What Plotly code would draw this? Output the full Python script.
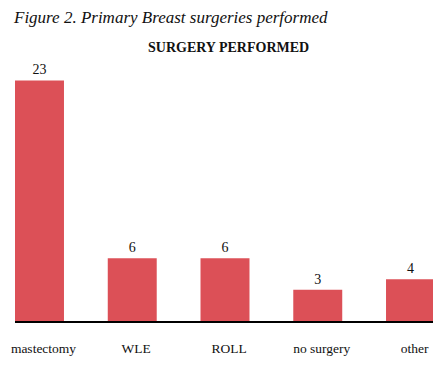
import plotly.graph_objects as go

categories = ["mastectomy", "WLE", "ROLL", "no surgery", "other"]
values = [23, 6, 6, 3, 4]

# the page body has an 8px margin; work in figure coordinates
OFF = 8
W, H = 441 - OFF, 369 - OFF
ml, mr, mt, mb = 15 - OFF, W - (435 - OFF), 70 - OFF, H - (321 - OFF)
ph = H - mt - mb
pw = W - ml - mr

def py(pix):
    return (H - mb - (pix - OFF)) / ph

def px(pix):
    return ((pix - OFF) - ml) / pw

fig = go.Figure(go.Bar(
    x=list(range(len(categories))), y=values,
    marker=dict(color="#DC5057", line=dict(width=0)),
    width=0.528,
    text=[str(v) for v in values], textposition="outside",
    textfont=dict(family="Liberation Serif", size=14, color="#111"),
    cliponaxis=False,
))

fig.update_layout(
    width=W, height=H,
    margin=dict(l=ml, r=mr, t=mt, b=mb, autoexpand=False),
    paper_bgcolor="white", plot_bgcolor="white",
    showlegend=False,
    font=dict(family="Liberation Serif", color="#111"),
    xaxis=dict(
        range=[-0.264, 4.264], automargin=False,
        tickmode="array", tickvals=list(range(len(categories))), ticktext=categories,
        tickfont=dict(family="Liberation Serif", size=13.5, color="#111"),
        showline=True, linecolor="black", linewidth=1.5,
        showgrid=False, zeroline=False, ticks="", ticklabelstandoff=14,
        ticklabelshift=4,
    ),
    yaxis=dict(range=[0, 24], visible=False, automargin=False, showgrid=False, zeroline=False),
    annotations=[
        dict(text="<i>Figure 2. Primary Breast surgeries performed</i>",
             xref="paper", yref="paper", x=px(11), y=py(17.5),
             xanchor="left", yanchor="middle", showarrow=False,
             font=dict(family="Liberation Serif", size=17, color="#111")),
        dict(text="<b>SURGERY PERFORMED</b>",
             xref="paper", yref="paper", x=px(228), y=py(47),
             xanchor="center", yanchor="middle", showarrow=False,
             font=dict(family="Liberation Serif", size=14, color="#111")),
    ],
)

fig.write_html("out.html")
